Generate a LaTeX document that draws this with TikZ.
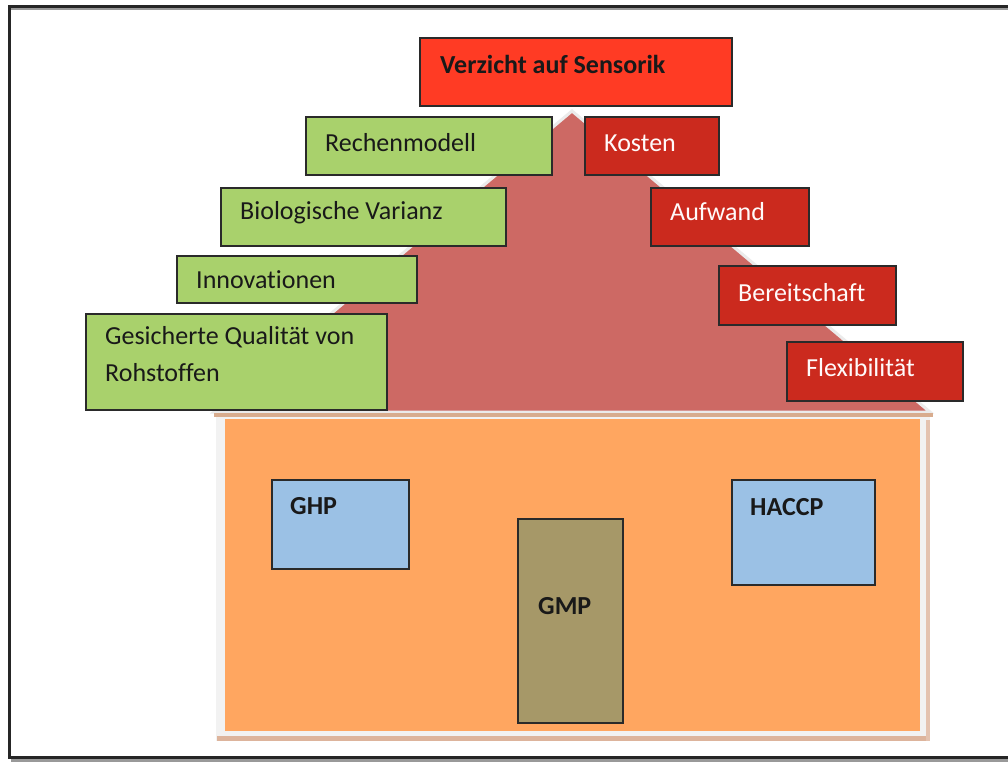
\documentclass[tikz,border=0pt]{standalone}
\usepackage{fontspec}
\setmainfont{Carlito}[Ligatures=NoCommon]
\definecolor{gfill}{HTML}{A9D16C}
\definecolor{rbright}{HTML}{FF3B24}
\definecolor{rdark}{HTML}{CB2A1E}
\definecolor{roofc}{HTML}{CD6964}
\definecolor{housec}{HTML}{FFA660}
\definecolor{winc}{HTML}{9BC1E5}
\definecolor{doorc}{HTML}{A69868}
\definecolor{rimc}{HTML}{F2F2F2}
\definecolor{tanc}{HTML}{DDB49C}
\definecolor{edgec}{HTML}{2A2A2A}
\begin{document}
\begin{tikzpicture}[x=1pt,y=-1pt,
  box/.style={draw=edgec,line width=1.3pt,anchor=north west,inner sep=0pt,outer sep=0pt},
  gbox/.style={box,fill=gfill},
  rbox/.style={box,fill=rdark},
  txt/.style={anchor=west,inner sep=0pt,font=\fontsize{26}{37}\selectfont,text=black!90},
  wtxt/.style={txt,text=white!92!pink},
  btxt/.style={txt,font=\fontsize{26}{30}\selectfont\bfseries}]
\useasboundingbox (0,0) rectangle (1008,765);
\fill[white] (0,0) rectangle (1008,765);
% outer frame
\draw[line width=3pt,black!40] (11,9) -- (1020,9);
\draw[line width=3pt,black!40] (11,760) -- (1020,760);
\draw[line width=3pt,black!85] (10,7) -- (1020,7);
\draw[line width=3pt,black!85] (10,757.5) -- (1020,757.5);
\draw[line width=3pt,black!85] (9.5,5.5) -- (9.5,759);
% roof
\draw[line width=3pt,white!92!black,line join=miter,fill=roofc] (572,111) -- (214,412) -- (930,412) -- cycle;
% house
\fill[rimc] (216,413) rectangle (930,741);
\fill[tanc] (217,736) rectangle (930,741);
\fill[tanc!80] (926,420) rectangle (930,741);
\fill[tanc!85!brown] (214,413) rectangle (933,417);
\fill[housec] (225,419) rectangle (920,731);
% windows and door
\node[box,fill=winc,minimum width=137pt,minimum height=89pt] (ghp) at (272,480) {};
\node[btxt] at (290,506) {GHP};
\node[box,fill=winc,minimum width=143pt,minimum height=105pt] (haccp) at (732,480) {};
\node[btxt] at (750,507) {HACCP};
\node[box,fill=doorc,minimum width=105pt,minimum height=204pt] (gmp) at (518,519) {};
\node[btxt] at (538,606) {GMP};
% top
\node[box,fill=rbright,minimum width=312pt,minimum height=68pt] (verz) at (420,38) {};
\node[btxt] at (440,64) {Verzicht auf Sensorik};
% green boxes
\node[gbox,minimum width=246pt,minimum height=58pt] (rech) at (306,117) {};
\node[txt] at (325,143) {Rechenmodell};
\node[gbox,minimum width=285pt,minimum height=58pt] (bio) at (221,188) {};
\node[txt] at (240,213) {Biologische Varianz};
\node[gbox,minimum width=240pt,minimum height=47pt] (inno) at (177,256) {};
\node[txt] at (196,280) {Innovationen};
\node[gbox,minimum width=301pt,minimum height=96pt] (ges) at (86,314) {};
\node[txt,anchor=north west,align=left] at (105,326) {Gesicherte Qualität von\\Rohstoffen};
% red boxes
\node[rbox,minimum width=134pt,minimum height=58pt] (kost) at (585,117) {};
\node[wtxt] at (604,143) {Kosten};
\node[rbox,minimum width=158pt,minimum height=58pt] (aufw) at (651,188) {};
\node[wtxt] at (670,212) {Aufwand};
\node[rbox,minimum width=177pt,minimum height=59pt] (bereit) at (719,266) {};
\node[wtxt] at (738,293) {Bereitschaft};
\node[rbox,minimum width=176pt,minimum height=59pt] (flex) at (787,342) {};
\node[wtxt] at (806,368) {Flexibilität};
\end{tikzpicture}
\end{document}
